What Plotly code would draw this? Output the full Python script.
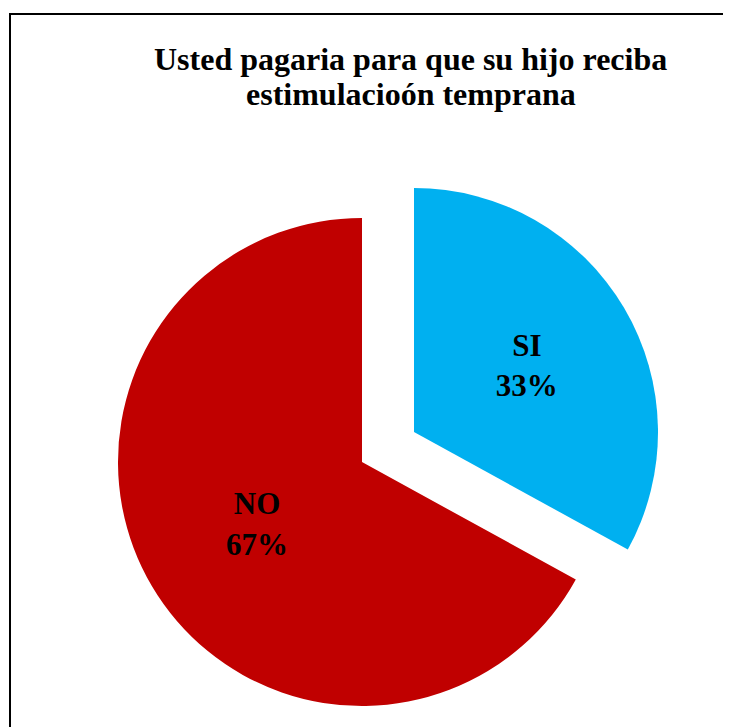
import plotly.graph_objects as go

labels = ["SI", "NO"]
values = [33, 67]
colors = ["#00B0F0", "#C00000"]
title_lines = ["Usted pagaria para que su hijo reciba", "estimulacioón temprana"]

# page body has an 8px margin, so the figure is sized to the remaining window
W, H = 723, 719
R = 244
# slice centers (px, figure coords): NO at base center, SI pulled out along its bisector
base_c = (354, 454)
pulled_c = (406, 424)


def dom(c):
    cx, cy = c
    return dict(x=[(cx - R) / W, (cx + R) / W],
                y=[(H - cy - R) / H, (H - cy + R) / H])


fig = go.Figure()
for i, center in enumerate([pulled_c, base_c]):
    mcols = [colors[j] if j == i else "rgba(0,0,0,0)" for j in range(len(labels))]
    tt = ["<b>%{label}<br>%{percent:.0%}</b>" if j == i else "" for j in range(len(labels))]
    fig.add_trace(go.Pie(
        labels=labels, values=values, sort=False, direction="clockwise",
        rotation=0, domain=dom(center),
        marker=dict(colors=mcols, line=dict(width=0)),
        texttemplate=tt, textposition="inside", insidetextorientation="horizontal",
        textfont=dict(family="Liberation Serif", size=31, color="black"),
        showlegend=False, hoverinfo="skip",
    ))

title_y = [51.5, 85.5]
annotations = [dict(text="<b>" + t + "</b>", xref="paper", yref="paper",
                    x=402.5 / W, y=1 - yy / H, xanchor="center", yanchor="middle",
                    showarrow=False,
                    font=dict(family="Liberation Serif", size=32, color="black"))
               for t, yy in zip(title_lines, title_y)]

fig.update_layout(
    width=W, height=H, margin=dict(l=0, r=0, t=0, b=0),
    paper_bgcolor="white", plot_bgcolor="white",
    annotations=annotations,
    shapes=[dict(type="rect", xref="paper", yref="paper",
                 x0=2 / W, x1=1.05, y0=-0.05, y1=1 - 6 / H,
                 line=dict(color="black", width=2), fillcolor="rgba(0,0,0,0)")],
)

fig.write_html("out.html")
